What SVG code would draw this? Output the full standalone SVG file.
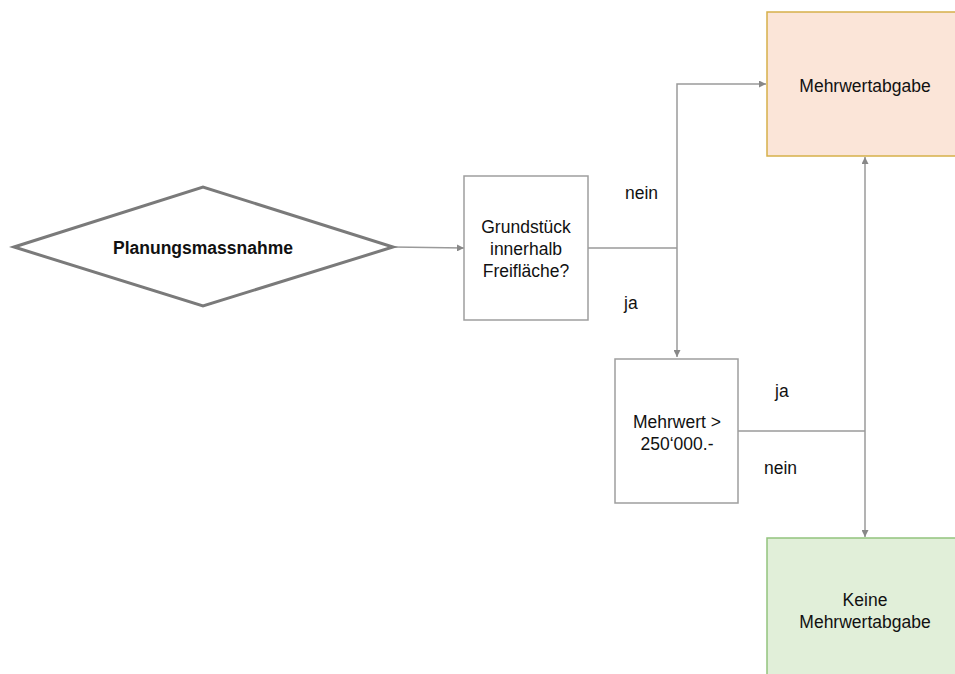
<svg xmlns="http://www.w3.org/2000/svg" width="955" height="674" viewBox="0 0 955 674">
<style>
text{font-family:"Liberation Sans",Arial,sans-serif;font-size:17.5px;fill:#111;text-anchor:middle}
.b{font-weight:bold}
.box{fill:#fff;stroke:#9e9e9e;stroke-width:1.5}
.c{fill:none;stroke:#9a9a9a;stroke-width:1.5}
.lbl{text-anchor:start}
</style>
<defs>
<marker id="a" viewBox="0 0 10 10" refX="10" refY="5" markerWidth="7" markerHeight="7" orient="auto" markerUnits="userSpaceOnUse">
<path d="M0,0 L10,5 L0,10 z" fill="#888"/>
</marker>
</defs>
<rect width="955" height="674" fill="#fff"/>
<g id="connectors">
<line class="c" x1="393" y1="247" x2="464" y2="248" marker-end="url(#a)"/>
<path class="c" d="M588,248 H677"/>
<path class="c" d="M677,248 V84 H766" marker-end="url(#a)"/>
<path class="c" d="M677,248 V357" marker-end="url(#a)"/>
<path class="c" d="M738,431 H865"/>
<path class="c" d="M865,431 V157" marker-end="url(#a)"/>
<path class="c" d="M865,431 V537" marker-end="url(#a)"/>
</g>
<g id="labels">
<text class="lbl" x="625" y="199">nein</text>
<text class="lbl" x="624" y="309">ja</text>
<text class="lbl" x="775" y="397">ja</text>
<text class="lbl" x="764" y="474">nein</text>
</g>
<g id="planungsmassnahme">
<polygon points="14,247 203,187 393,247 203,306" fill="#fff" stroke="#7a7a7a" stroke-width="3" stroke-linejoin="miter"/>
<text class="b" x="203" y="254">Planungsmassnahme</text>
</g>
<g id="grundstueck">
<rect class="box" x="464" y="176" width="124" height="144"/>
<text x="526" y="233">Grundstück</text>
<text x="526" y="255">innerhalb</text>
<text x="526" y="277">Freifläche?</text>
</g>
<g id="mehrwert">
<rect class="box" x="615" y="359" width="123" height="144"/>
<text x="677" y="428">Mehrwert &gt;</text>
<text x="677" y="450">250‘000.-</text>
</g>
<g id="mehrwertabgabe">
<rect x="767" y="12" width="200" height="144" fill="#fbe5d8" stroke="#d6b04a" stroke-width="1.5"/>
<text x="865" y="92">Mehrwertabgabe</text>
</g>
<g id="keine">
<rect x="767" y="538" width="200" height="150" fill="#e1efd9" stroke="#93c47d" stroke-width="1.5"/>
<text x="865" y="606">Keine</text>
<text x="865" y="628">Mehrwertabgabe</text>
</g>
</svg>
